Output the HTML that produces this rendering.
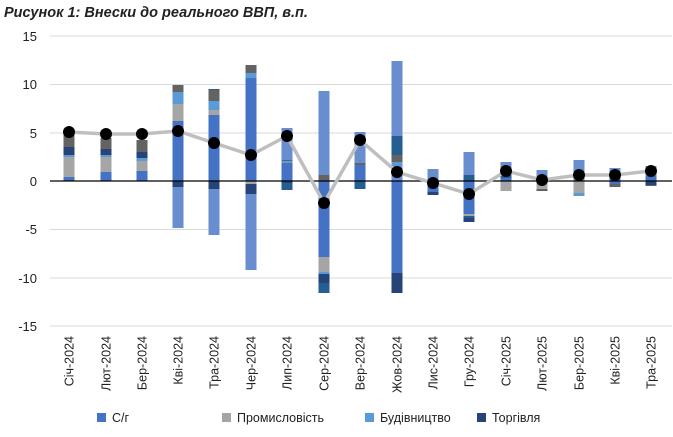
<!DOCTYPE html>
<html><head><meta charset="utf-8"><style>
body{margin:0;background:#fff;}
svg{display:block;font-family:"Liberation Sans","DejaVu Sans",sans-serif;}
.b rect{width:11px}
</style></head><body>
<svg width="673" height="437" viewBox="0 0 673 437" xmlns="http://www.w3.org/2000/svg">
<text x="4" y="17" font-size="14.5" font-weight="bold" font-style="italic" fill="#222">Рисунок 1: Внески до реального ВВП, в.п.</text>
<g stroke="#d9d9d9" stroke-width="1">
<line x1="50" x2="672" y1="36" y2="36"/><line x1="50" x2="672" y1="84.5" y2="84.5"/><line x1="50" x2="672" y1="133" y2="133"/>
<line x1="50" x2="672" y1="229.5" y2="229.5"/><line x1="50" x2="672" y1="278" y2="278"/><line x1="50" x2="672" y1="326" y2="326"/>
</g>
<g font-size="13" fill="#222" text-anchor="end">
<text x="37" y="41">15</text><text x="37" y="89">10</text><text x="37" y="138">5</text><text x="37" y="186">0</text>
<text x="37" y="234">-5</text><text x="37" y="283">-10</text><text x="37" y="331">-15</text>
</g>
<g class="b" transform="translate(63.5,0)"><rect width="11" y="130" height="17" fill="#636363"/><rect width="11" y="147" height="8" fill="#264478"/><rect width="11" y="155" height="2" fill="#5B9BD5"/><rect width="11" y="157" height="20" fill="#A5A5A5"/><rect width="11" y="177" height="4" fill="#4472C4"/></g>
<g class="b" transform="translate(100.5,0)"><rect width="11" y="138" height="11" fill="#636363"/><rect width="11" y="149" height="6" fill="#264478"/><rect width="11" y="155" height="2" fill="#5B9BD5"/><rect width="11" y="157" height="15" fill="#A5A5A5"/><rect width="11" y="172" height="9" fill="#4472C4"/></g>
<g class="b" transform="translate(136.5,0)"><rect width="11" y="140" height="12" fill="#636363"/><rect width="11" y="152" height="6" fill="#264478"/><rect width="11" y="158" height="3" fill="#5B9BD5"/><rect width="11" y="161" height="10" fill="#A5A5A5"/><rect width="11" y="171" height="10" fill="#4472C4"/></g>
<g class="b" transform="translate(172.5,0)"><rect width="11" y="85" height="7" fill="#636363"/><rect width="11" y="92" height="12" fill="#5B9BD5"/><rect width="11" y="104" height="17" fill="#A5A5A5"/><rect width="11" y="121" height="60" fill="#4472C4"/><rect width="11" y="181" height="6" fill="#264478"/><rect width="11" y="187" height="41" fill="#698ED0"/></g>
<g class="b" transform="translate(208.5,0)"><rect width="11" y="89" height="1" fill="#255E91"/><rect width="11" y="90" height="11" fill="#636363"/><rect width="11" y="101" height="9" fill="#5B9BD5"/><rect width="11" y="110" height="5" fill="#A5A5A5"/><rect width="11" y="115" height="66" fill="#4472C4"/><rect width="11" y="181" height="8" fill="#264478"/><rect width="11" y="189" height="46" fill="#698ED0"/></g>
<g class="b" transform="translate(245.5,0)"><rect width="11" y="65" height="8" fill="#636363"/><rect width="11" y="73" height="5" fill="#5B9BD5"/><rect width="11" y="78" height="103" fill="#4472C4"/><rect width="11" y="181" height="3" fill="#A5A5A5"/><rect width="11" y="184" height="10" fill="#264478"/><rect width="11" y="194" height="76" fill="#698ED0"/></g>
<g class="b" transform="translate(281.5,0)"><rect width="11" y="128" height="32" fill="#698ED0"/><rect width="11" y="160" height="1" fill="#636363"/><rect width="11" y="161" height="2" fill="#5B9BD5"/><rect width="11" y="163" height="18" fill="#4472C4"/><rect width="11" y="181" height="2" fill="#264478"/><rect width="11" y="183" height="7" fill="#255E91"/></g>
<g class="b" transform="translate(318.5,0)"><rect width="11" y="91" height="84" fill="#698ED0"/><rect width="11" y="175" height="6" fill="#636363"/><rect width="11" y="181" height="76" fill="#4472C4"/><rect width="11" y="257" height="15" fill="#A5A5A5"/><rect width="11" y="272" height="2" fill="#5B9BD5"/><rect width="11" y="274" height="9" fill="#264478"/><rect width="11" y="283" height="10" fill="#255E91"/></g>
<g class="b" transform="translate(354.5,0)"><rect width="11" y="132" height="31" fill="#698ED0"/><rect width="11" y="163" height="2" fill="#636363"/><rect width="11" y="165" height="16" fill="#4472C4"/><rect width="11" y="181" height="8" fill="#255E91"/></g>
<g class="b" transform="translate(391.5,0)"><rect width="11" y="61" height="75" fill="#698ED0"/><rect width="11" y="136" height="19" fill="#255E91"/><rect width="11" y="155" height="7" fill="#636363"/><rect width="11" y="162" height="3" fill="#5B9BD5"/><rect width="11" y="165" height="16" fill="#698ED0"/><rect width="11" y="181" height="92" fill="#4472C4"/><rect width="11" y="273" height="20" fill="#264478"/></g>
<g class="b" transform="translate(427.5,0)"><rect width="11" y="169" height="12" fill="#698ED0"/><rect width="11" y="181" height="11" fill="#4472C4"/><rect width="11" y="192" height="3" fill="#264478"/></g>
<g class="b" transform="translate(463.5,0)"><rect width="11" y="152" height="23" fill="#698ED0"/><rect width="11" y="175" height="6" fill="#255E91"/><rect width="11" y="181" height="33" fill="#4472C4"/><rect width="11" y="214" height="2" fill="#A5A5A5"/><rect width="11" y="216" height="2" fill="#255E91"/><rect width="11" y="218" height="4" fill="#264478"/></g>
<g class="b" transform="translate(500.5,0)"><rect width="11" y="162" height="13" fill="#698ED0"/><rect width="11" y="175" height="3" fill="#255E91"/><rect width="11" y="178" height="3" fill="#4472C4"/><rect width="11" y="181" height="10" fill="#A5A5A5"/></g>
<g class="b" transform="translate(536.5,0)"><rect width="11" y="170" height="11" fill="#698ED0"/><rect width="11" y="181" height="8" fill="#A5A5A5"/><rect width="11" y="189" height="2" fill="#636363"/></g>
<g class="b" transform="translate(573.5,0)"><rect width="11" y="160" height="21" fill="#698ED0"/><rect width="11" y="181" height="12" fill="#A5A5A5"/><rect width="11" y="193" height="3" fill="#5B9BD5"/></g>
<g class="b" transform="translate(609.5,0)"><rect width="11" y="168" height="8" fill="#698ED0"/><rect width="11" y="176" height="8" fill="#4472C4"/><rect width="11" y="184" height="3" fill="#636363"/></g>
<g class="b" transform="translate(645.5,0)"><rect width="11" y="166" height="10" fill="#698ED0"/><rect width="11" y="176" height="5" fill="#4472C4"/><rect width="11" y="181" height="4" fill="#264478"/><rect width="11" y="185" height="1" fill="#636363"/></g>
<line x1="50" x2="672" y1="181" y2="181" stroke="#000" stroke-width="1.2"/>
<polyline fill="none" stroke="#bfbfbf" stroke-width="3.5" points="69,132 106,134 142,134 178,131 214,143 251,155 287,136 324,203 360,140 397,172 433,183 469,194 506,171 542,180 579,175 615,175 651,171"/>
<g fill="#000">
<circle cx="69" cy="132" r="6"/><circle cx="106" cy="134" r="6"/><circle cx="142" cy="134" r="6"/><circle cx="178" cy="131" r="6"/><circle cx="214" cy="143" r="6"/><circle cx="251" cy="155" r="6"/><circle cx="287" cy="136" r="6"/><circle cx="324" cy="203" r="6"/><circle cx="360" cy="140" r="6"/><circle cx="397" cy="172" r="6"/><circle cx="433" cy="183" r="6"/><circle cx="469" cy="194" r="6"/><circle cx="506" cy="171" r="6"/><circle cx="542" cy="180" r="6"/><circle cx="579" cy="175" r="6"/><circle cx="615" cy="175" r="6"/><circle cx="651" cy="171" r="6"/>
</g>
<g font-size="12.5" fill="#222" text-anchor="end">
<text transform="translate(73.5,336) rotate(-90)">Січ-2024</text>
<text transform="translate(110.5,336) rotate(-90)">Лют-2024</text>
<text transform="translate(146.5,336) rotate(-90)">Бер-2024</text>
<text transform="translate(182.5,336) rotate(-90)">Кві-2024</text>
<text transform="translate(218.5,336) rotate(-90)">Тра-2024</text>
<text transform="translate(255.5,336) rotate(-90)">Чер-2024</text>
<text transform="translate(291.5,336) rotate(-90)">Лип-2024</text>
<text transform="translate(328.5,336) rotate(-90)">Сер-2024</text>
<text transform="translate(364.5,336) rotate(-90)">Вер-2024</text>
<text transform="translate(401.5,336) rotate(-90)">Жов-2024</text>
<text transform="translate(437.5,336) rotate(-90)">Лис-2024</text>
<text transform="translate(473.5,336) rotate(-90)">Гру-2024</text>
<text transform="translate(510.5,336) rotate(-90)">Січ-2025</text>
<text transform="translate(546.5,336) rotate(-90)">Лют-2025</text>
<text transform="translate(583.5,336) rotate(-90)">Бер-2025</text>
<text transform="translate(619.5,336) rotate(-90)">Кві-2025</text>
<text transform="translate(655.5,336) rotate(-90)">Тра-2025</text>
</g>
<g font-size="12.5" fill="#222">
<rect x="97" y="413" width="9" height="9" fill="#4472C4"/><text x="112" y="422">С/г</text>
<rect x="222" y="413" width="9" height="9" fill="#A5A5A5"/><text x="237" y="422">Промисловість</text>
<rect x="365" y="413" width="9" height="9" fill="#5B9BD5"/><text x="380" y="422">Будівництво</text>
<rect x="477" y="413" width="9" height="9" fill="#264478"/><text x="492" y="422">Торгівля</text>
</g>
</svg>
</body></html>
